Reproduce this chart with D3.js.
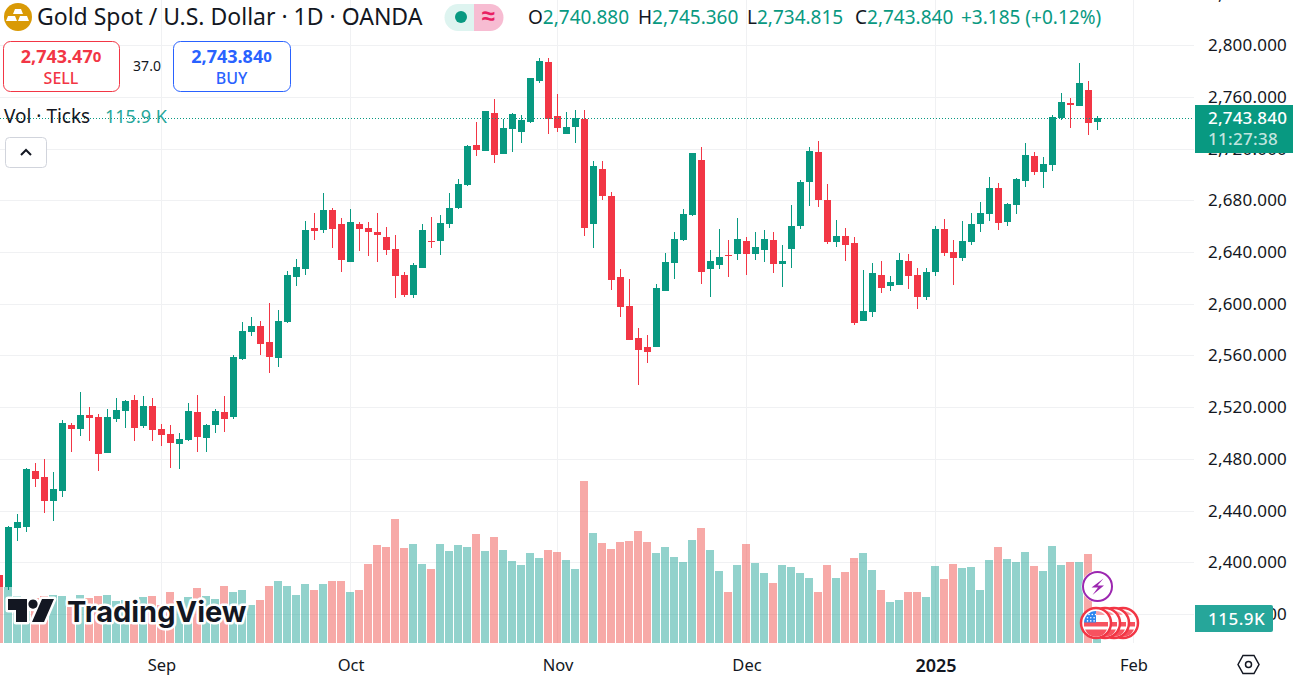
<!DOCTYPE html>
<html>
<head>
<meta charset="utf-8">
<title>Gold Spot / U.S. Dollar</title>
<script src="https://cdn.jsdelivr.net/npm/d3@7"></script>
<style>
    html, body { margin: 0; padding: 0; background: #fff; overflow: hidden; }
    svg { display: block; }
    text { font-family: "Noto Sans", sans-serif; fill: #131722; }
</style>
</head>
<body>
<script>
// daily bars, first one is cut by the left edge of the chart
var opens = [2390.2,2381.0,2426.5,2427.3,2470.6,2466.0,2447.4,2455.2,2506.2,2503.1,2514.0,2512.4,2484.6,2510.9,2517.0,2525.6,2505.5,2520.9,2503.1,2499.3,2491.5,2494.6,2516.3,2496.2,2506.2,2516.3,2512.4,2557.3,2578.2,2582.8,2570.4,2558.0,2585.9,2620.7,2626.9,2658.7,2657.1,2672.6,2661.7,2632.3,2661.7,2658.7,2655.5,2651.7,2642.4,2622.3,2606.8,2627.7,2648.6,2648.6,2661.7,2674.1,2691.9,2722.9,2718.2,2747.6,2715.9,2735.2,2733.0,2740.7,2772.4,2787.1,2745.3,2731.4,2736.8,2743.0,2661.7,2704.3,2683.4,2620.7,2598.3,2573.5,2566.6,2566.6,2609.9,2631.6,2649.4,2668.7,2711.3,2626.9,2630.0,2637.8,2638.5,2648.6,2638.5,2641.6,2649.4,2630.8,2642.4,2660.2,2694.2,2717.4,2680.3,2647.8,2652.4,2647.0,2586.7,2593.7,2622.3,2613.8,2614.5,2633.1,2622.3,2605.3,2624.6,2657.9,2640.1,2635.4,2647.8,2661.7,2669.5,2689.6,2663.3,2676.4,2695.0,2714.4,2702.0,2707.4,2743.8,2755.4,2753.0,2765.4,2740.88];
var highs = [2391.7,2428.1,2437.4,2473.0,2476.8,2479.9,2469.9,2510.1,2507.8,2531.8,2520.2,2514.7,2518.6,2527.1,2525.6,2529.4,2528.7,2527.1,2507.0,2506.2,2500.1,2523.3,2529.4,2507.0,2518.6,2528.7,2560.4,2585.9,2589.8,2586.7,2600.6,2595.2,2625.4,2634.7,2664.1,2670.2,2685.7,2674.1,2666.4,2673.3,2663.3,2663.3,2670.2,2659.4,2653.2,2624.6,2631.6,2661.7,2667.1,2668.7,2685.7,2696.6,2722.9,2740.7,2749.2,2758.5,2743.0,2747.6,2746.1,2774.7,2790.2,2790.2,2762.3,2748.4,2750.0,2750.0,2710.5,2710.5,2686.5,2626.9,2619.2,2581.3,2575.9,2615.3,2639.3,2655.5,2673.3,2716.7,2721.3,2641.6,2657.9,2649.4,2666.4,2651.7,2655.5,2657.1,2655.5,2645.5,2676.4,2695.8,2721.3,2725.9,2692.7,2664.8,2658.7,2651.7,2626.1,2631.6,2633.1,2621.5,2639.3,2638.5,2627.7,2627.7,2660.2,2665.6,2649.4,2664.1,2670.2,2678.8,2698.1,2693.5,2678.0,2697.3,2724.4,2717.4,2713.6,2746.1,2763.1,2759.2,2786.3,2772.4,2745.36];
var lows = [2377.0,2378.6,2416.5,2423.4,2458.2,2438.1,2432.0,2450.5,2485.3,2497.7,2493.9,2470.6,2484.6,2508.6,2503.9,2493.9,2503.9,2493.9,2490.0,2473.0,2472.2,2493.9,2485.3,2485.3,2500.1,2500.8,2510.9,2556.5,2575.1,2560.4,2546.4,2551.1,2585.1,2613.8,2622.3,2649.4,2654.8,2643.2,2624.6,2632.3,2640.9,2637.0,2632.3,2637.8,2604.5,2605.3,2604.5,2627.7,2643.2,2637.8,2658.7,2673.3,2691.1,2714.4,2718.2,2708.9,2715.9,2717.4,2724.4,2739.9,2770.8,2731.4,2733.0,2731.4,2724.4,2652.4,2643.2,2680.3,2610.7,2589.8,2572.0,2537.2,2554.2,2566.6,2609.9,2619.2,2648.6,2667.9,2615.3,2605.3,2626.9,2620.7,2633.9,2622.3,2633.9,2632.3,2623.8,2613.0,2627.7,2657.9,2675.6,2674.9,2646.3,2643.9,2633.1,2583.6,2586.7,2589.8,2608.4,2609.9,2614.5,2611.5,2596.0,2603.0,2621.5,2637.0,2614.5,2633.1,2645.5,2655.5,2664.1,2657.1,2660.2,2669.5,2690.4,2699.6,2689.6,2702.7,2742.2,2736.0,2753.0,2730.6,2734.815];
var closes = [2381.0,2427.3,2431.2,2472.2,2464.4,2447.4,2456.7,2507.8,2503.1,2514.0,2511.6,2483.8,2512.4,2517.8,2524.8,2503.9,2520.9,2502.4,2498.5,2492.3,2495.4,2517.0,2497.0,2506.2,2517.0,2510.9,2558.8,2579.0,2582.8,2568.9,2558.8,2586.7,2622.3,2628.5,2657.1,2656.3,2672.6,2657.9,2633.9,2663.3,2657.9,2655.5,2653.2,2641.6,2621.5,2606.8,2630.0,2657.1,2647.8,2662.5,2674.1,2692.7,2722.1,2719.0,2749.2,2715.1,2736.0,2746.8,2742.2,2774.7,2787.9,2743.0,2736.0,2736.8,2743.8,2658.7,2706.6,2683.4,2618.4,2597.6,2572.0,2564.3,2562.7,2612.2,2632.3,2650.1,2669.5,2716.7,2624.6,2633.1,2636.2,2637.0,2650.1,2638.5,2643.9,2650.1,2630.8,2633.1,2660.2,2694.2,2718.2,2680.3,2647.8,2652.4,2645.5,2585.1,2594.4,2623.8,2612.2,2616.9,2633.9,2621.5,2605.3,2624.6,2657.9,2639.3,2635.4,2648.6,2661.7,2670.2,2689.6,2662.5,2677.2,2696.6,2715.1,2702.0,2708.2,2744.5,2756.1,2753.8,2770.8,2739.9,2743.84];
// tick volume in thousands
var volumes = [264,260,218,209,209,218,223,218,199,223,209,218,223,195,199,199,213,218,176,236,190,213,255,218,204,264,236,246,176,199,264,287,264,223,274,246,274,287,287,236,246,366,454,445,575,440,459,366,343,459,427,454,445,505,427,491,431,380,362,417,394,431,422,385,343,751,510,464,436,468,473,519,468,417,445,399,376,478,533,431,334,236,362,459,371,325,278,362,352,325,301,236,362,301,329,394,417,338,246,190,199,236,236,213,357,297,366,348,352,246,385,445,389,375,422,357,334,450,362,375,375,413,115.9];

var priceTicks = [2360,2400,2440,2480,2520,2560,2600,2640,2680,2720,2760,2800,2840];
var timeTickBars = [17,38,61,82,103,125];   // bar number counted from the first whole bar
var timeTickLabels = ["Sep","Oct","Nov","Dec","2025","Feb"];

var lastPrice = 2743.84, sellPrice = "2,743.47", buyPrice = "2,743.84";

var w = 1293, h = 678, plotRight = 1194, plotBottom = 643;
var green = "#089981", red = "#F23645", gridColor = "#f0f1f3";

var svg = d3.select("body").append("svg").attr("width", w).attr("height", h);

var x = d3.scaleLinear().domain([-1, 121]).range([-0.5, 1097.5]),
    y = d3.scaleLinear().domain([2800, 2400]).range([45.3, 562.3]),
    v = d3.scaleLinear().domain([0, 751]).range([plotBottom, 481]);

var bars = d3.range(opens.length).map(function (k) {
    return {n: k - 1, o: opens[k], h: highs[k], l: lows[k], c: closes[k], vol: volumes[k]};
});

// grid
var grid = svg.append("g").attr("shape-rendering", "crispEdges");
grid.selectAll(".h").data(priceTicks).enter().append("line")
    .attr("x1", 0).attr("x2", plotRight)
    .attr("y1", function (d) {return Math.round(y(d));})
    .attr("y2", function (d) {return Math.round(y(d));})
    .attr("stroke", gridColor);
grid.selectAll(".v").data(timeTickBars).enter().append("line")
    .attr("x1", function (d) {return x(d);})
    .attr("x2", function (d) {return x(d);})
    .attr("y1", 0).attr("y2", plotBottom)
    .attr("stroke", gridColor);

// volume
svg.append("g").attr("shape-rendering", "crispEdges").selectAll("rect").data(bars).enter().append("rect")
    .attr("x", function (d) {return x(d.n) - 4.5;})
    .attr("width", 8)
    .attr("y", function (d) {return v(d.vol);})
    .attr("height", function (d) {return plotBottom - v(d.vol);})
    .attr("fill", function (d) {return d.c >= d.o ? "#26a69a" : "#ef5350";})
    .attr("fill-opacity", 0.5);

// candles
var candle = svg.append("g").attr("shape-rendering", "crispEdges").selectAll("g").data(bars).enter().append("g")
    .attr("fill", function (d) {return d.c >= d.o ? green : red;});
candle.append("rect")
    .attr("x", function (d) {return x(d.n) - 0.5;})
    .attr("width", 1)
    .attr("y", function (d) {return Math.round(y(d.h));})
    .attr("height", function (d) {return Math.round(y(d.l)) - Math.round(y(d.h));});
candle.append("rect")
    .attr("x", function (d) {return x(d.n) - 3.5;})
    .attr("width", 7)
    .attr("y", function (d) {return Math.round(y(Math.max(d.o, d.c)));})
    .attr("height", function (d) {return Math.max(1, Math.round(y(Math.min(d.o, d.c))) - Math.round(y(Math.max(d.o, d.c))));});

// last price line
svg.append("line")
    .attr("x1", 0).attr("x2", plotRight)
    .attr("y1", Math.round(y(lastPrice)) + 0.5).attr("y2", Math.round(y(lastPrice)) + 0.5)
    .attr("stroke", green).attr("stroke-dasharray", "1 2");

// axes
var priceAxis = d3.axisRight(y).tickValues(priceTicks).tickSize(0).tickPadding(0).tickFormat(d3.format(",.3f"));
var pa = svg.append("g").attr("transform", "translate(1208,0)").call(priceAxis);
pa.select(".domain").remove();
pa.selectAll("text").attr("font-size", 17).attr("letter-spacing", 0.2).attr("font-family", null).style("fill", "#131722");

var timeAxis = d3.axisBottom(x).tickValues(timeTickBars).tickSize(0).tickPadding(0)
    .tickFormat(function (d, i) {return timeTickLabels[i];});
var ta = svg.append("g").attr("transform", "translate(0,659)").call(timeAxis);
ta.select(".domain").remove();
ta.selectAll("text").attr("font-family", null).style("fill", "#131722")
    .attr("font-size", function (d, i) {return timeTickLabels[i] == "2025" ? 18 : 16.5;})
    .attr("font-weight", function (d, i) {return timeTickLabels[i] == "2025" ? 600 : 400;});

// header
var head = svg.append("g");
head.append("circle").attr("cx", 18).attr("cy", 17).attr("r", 14).attr("fill", "#d99a06");
head.append("path").attr("fill", "#fff")
    .attr("d", "M15 9h6l2 5h-10zM8 16h7l2 5H6zM20 16h7l2 5H18z");
head.append("text").attr("x", 37).attr("y", 25).attr("font-size", 23).text("Gold Spot / U.S. Dollar · 1D · OANDA");

head.append("path").attr("fill", "#def4f0").attr("d", "M474 4h-16a13.5 13.5 0 0 0 0 27h16z");
head.append("path").attr("fill", "#f7bcd2").attr("d", "M474 4h16a13.5 13.5 0 0 1 0 27h-16z");
head.append("circle").attr("cx", 461).attr("cy", 17).attr("r", 6).attr("fill", green);
head.append("text").attr("x", 488).attr("y", 24).attr("text-anchor", "middle").attr("font-size", 24).attr("font-weight", 600)
    .style("fill", "#e91e63").text("≈");

var ohlcLabels = ["O", "H", "L", "C"], ohlcValues = ["2,740.880", "2,745.360", "2,734.815", "2,743.840"], ohlcX = [528, 638, 747, 855];
var ohlcText = head.append("text").attr("y", 24).attr("font-size", 19);
ohlcLabels.forEach(function (p, i) {
    ohlcText.append("tspan").attr("x", ohlcX[i]).text(p);
    ohlcText.append("tspan").style("fill", green).text(ohlcValues[i]);
});
ohlcText.append("tspan").attr("x", 961).style("fill", green).text("+3.185 (+0.12%)");

// sell / buy buttons
function tradeButton(bx, bw, color, price, last, label) {
    var g = svg.append("g");
    g.append("rect").attr("x", bx + 0.5).attr("y", 41.5).attr("width", bw).attr("height", 50).attr("rx", 7)
        .attr("fill", "#fff").attr("stroke", color);
    var t = g.append("text").attr("x", bx + bw / 2).attr("y", 63).attr("text-anchor", "middle")
        .attr("font-size", 18).attr("font-weight", 700).style("fill", color);
    t.append("tspan").text(price);
    t.append("tspan").attr("font-size", 15).attr("dy", -1).text(last);
    g.append("text").attr("x", bx + bw / 2).attr("y", 84).attr("text-anchor", "middle")
        .attr("font-size", 16).attr("font-weight", 500).style("fill", color).text(label);
}
tradeButton(3, 116, red, sellPrice, "0", "SELL");
tradeButton(173, 117, "#2962FF", buyPrice, "0", "BUY");
svg.append("text").attr("x", 147).attr("y", 71).attr("text-anchor", "middle").attr("font-size", 14).text("37.0");

// volume legend
svg.append("text").attr("x", 4).attr("y", 123).attr("font-size", 19).text("Vol · Ticks");
svg.append("text").attr("x", 105).attr("y", 123).attr("font-size", 18).style("fill", "#26a69a").text("115.9 K");
svg.append("rect").attr("x", 5.5).attr("y", 137.5).attr("width", 41).attr("height", 30).attr("rx", 4)
    .attr("fill", "#fff").attr("stroke", "#d1d4dc");
svg.append("path").attr("d", "M21 155l5-5 5 5").attr("fill", "none").attr("stroke", "#131722").attr("stroke-width", 2);

// price tags on the axis
svg.append("rect").attr("x", 1195).attr("y", 105).attr("width", 98).attr("height", 48).attr("fill", green);
svg.append("text").attr("x", 1208).attr("y", 124).attr("font-size", 17).attr("font-weight", 500).attr("letter-spacing", 0.2).style("fill", "#fff").text("2,743.840");
svg.append("text").attr("x", 1208).attr("y", 145).attr("font-size", 17).attr("font-weight", 500).attr("letter-spacing", 0.3).style("fill", "#fff").style("fill-opacity", 0.75).text("11:27:38");
svg.append("path").attr("d", "M1195 605h76a2 2 0 0 1 2 2v23a2 2 0 0 1-2 2h-76z").attr("fill", "#26a69a");
svg.append("text").attr("x", 1208).attr("y", 625).attr("font-size", 17).attr("font-weight", 500).attr("letter-spacing", 0.5).style("fill", "#fff").text("115.9K");

// settings hexagon
svg.append("path").attr("d", "M1238 664.5l5-9h11l5 9-5 9h-11z").attr("fill", "none").attr("stroke", "#131722").attr("stroke-width", 1.5);
svg.append("circle").attr("cx", 1248.5).attr("cy", 664.5).attr("r", 3).attr("fill", "none").attr("stroke", "#131722").attr("stroke-width", 1.5);

// watermark
var logo = svg.append("g");
var mark = "M8 599h19v23h-11v-12h-8zM42 599h12l-10 23h-12zM33 599.5a4.6 4.6 0 1 0 .01 0z";
logo.append("path").attr("d", mark).attr("fill", "#fff").attr("stroke", "#fff").attr("stroke-width", 5).attr("stroke-linejoin", "round");
logo.append("path").attr("d", mark).attr("fill", "#131722");
logo.append("text").attr("x", 67).attr("y", 622).attr("font-size", 29).attr("font-weight", 700)
    .attr("stroke", "#fff").attr("stroke-width", 5).attr("paint-order", "stroke").attr("stroke-linejoin", "round")
    .style("font-family", "Inter").text("TradingView");

// event markers
function flag(cx, cy) {
    var g = svg.append("g").attr("transform", "translate(" + cx + "," + cy + ")");
    g.append("circle").attr("r", 15).attr("fill", "#fff").attr("stroke", red).attr("stroke-width", 2.5);
    g.append("path").attr("fill", "#f7525f").attr("d", "M-12 -1h24v4.5h-24zM-11 6.5h22a12 12 0 0 1-22 0z");
    g.append("path").attr("fill", "#f7a3aa").attr("d", "M0 -12a12 12 0 0 1 9 4h-9z");
    g.append("path").attr("fill", "#2e86ef").attr("d", "M0 -12v11.5h-12a12 12 0 0 1 12-11.5z");
    d3.range(3).forEach(function (r) {
        d3.range(3).forEach(function (c) {
            g.append("circle").attr("cx", -8.5 + c * 3.3 + (r == 0 ? 1.5 : 0)).attr("cy", -8.5 + r * 3.2).attr("r", 0.8).attr("fill", "#fff");
        });
    });
}
[1123, 1114, 1105, 1096].forEach(function (cx) {flag(cx, 623);});
svg.append("circle").attr("cx", 1097.5).attr("cy", 586.5).attr("r", 16).attr("fill", "#fff");
svg.append("circle").attr("cx", 1097.5).attr("cy", 586.5).attr("r", 14.5).attr("fill", "#fff").attr("stroke", "#9c27b0").attr("stroke-width", 2);
svg.append("path").attr("d", "M1103.5 578.5L1091.5 587.5H1098L1092.5 595L1104 585.5H1097.5Z").attr("fill", "#9c27b0");
</script>
</body>
</html>
